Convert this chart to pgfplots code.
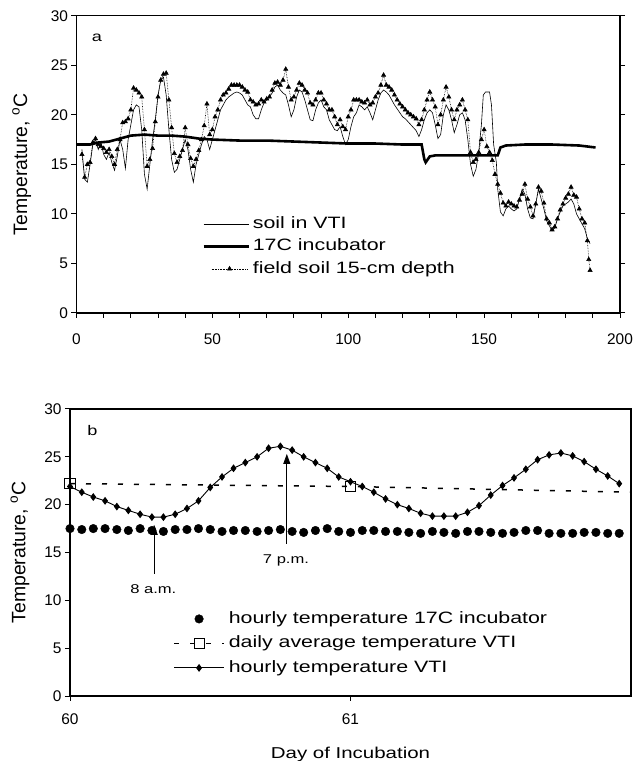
\documentclass[border=0pt]{standalone}
\usepackage{fontspec}
\setmainfont{Liberation Sans}
\newfontfamily\wide[FakeStretch=1.3]{Liberation Sans}
\usepackage{pgfplots}
\pgfplotsset{compat=1.18}
\usetikzlibrary{arrows.meta}

\pgfplotstableread{
x y
2 16.5
3 13.5
4 13.2
5 15
6 17
7 17.5
8 16.5
9 17.2
10 16
11 15.5
12 16.2
13 15.2
14 14.4
15 15.8
16 17.5
17 16.5
18 14.6
19 17.5
20 19
21 20.5
22 21
23 20.8
24 18.5
25 14
26 12.5
27 15
28 17.5
29 19.5
30 22
31 23.5
32 23.8
33 22
34 18.5
35 15.5
36 14.2
37 14.5
38 15.5
39 16.5
40 17.5
41 16.5
42 14.5
43 13.2
44 15
45 16
46 17
47 17.8
48 17.5
49 16.5
50 17.5
51 18.5
52 19.5
53 20.5
54 21
55 21.5
56 21.8
57 22
58 22.2
59 22.3
60 22.2
61 22
62 21.5
63 21
64 20.8
65 20
66 19.6
67 19.6
68 20.5
69 21.2
70 21.5
71 21.8
72 22.2
73 22.8
74 23
75 22.5
76 22.2
77 22
78 21
79 19.8
80 20.5
81 21.8
82 22.5
83 22.3
84 21.5
85 20.5
86 19.5
87 19.4
88 20.5
89 21.2
90 21.5
91 20.8
92 20.5
93 19.5
94 19
95 18.5
96 18.4
97 18.8
98 17.8
99 17
100 17.5
101 18.8
102 19.8
103 20.2
104 21
105 20.8
106 20.5
107 20.8
108 20.2
109 19.5
110 20.5
111 21.5
112 22.2
113 22.5
114 22.3
115 22
116 21.5
117 21
118 20.6
119 20.2
120 19.8
121 19.6
122 19.3
123 19
124 18.7
125 18.4
126 17.8
127 18.5
128 19.5
129 20.2
130 20.5
131 20.2
132 19
133 17.6
134 18
135 20
136 21
137 20.5
138 19.5
139 18.2
140 19
141 20
142 20.2
143 19.5
144 17.5
145 15
146 13.8
147 14.5
148 16.2
149 19
149.7 22
150.5 22.3
152 22.3
152.7 21
153.5 17
154.5 15.2
155 12.5
156 10.2
157 9.8
158 10.5
159 10.8
160 10.5
161 10.3
162 10.5
163 11.5
164 12.5
165 12
166 10.5
167 9.6
168 9.5
169 11
170 12.5
171 11.5
172 10.5
173 9.3
174 8.8
175 8.3
176 8.6
177 9.5
178 10.2
179 10.8
180 11
181 11.2
182 11.5
183 11
184 10
185 9.5
186 9
187 8.5
188 7.5
189 7
}\vti

\pgfplotstableread{
x y
2 16
3 13.7
4 15
5 15.2
6 17.2
7 17.6
8 17
9 16.8
10 16.6
11 16.2
12 16.5
13 15.8
14 15
15 16.5
16 17.5
17 19.2
18 19.3
19 19.6
20 20.5
21 22.7
22 22.5
23 22.2
24 21.8
25 18.5
26 14.8
27 15.5
28 16.6
29 19.3
30 21.8
31 23.5
32 24.1
33 24.2
34 21.5
35 18.7
36 16.1
37 15.2
38 15.8
39 16.4
40 18.7
41 17
42 15.6
43 14.8
44 15.5
45 16.4
46 17.5
47 18.9
48 21.1
49 18
50 18.5
51 19.8
52 20.5
53 21.5
54 22
55 22.2
56 22.6
57 23
58 23
59 23
60 23
61 22.8
62 22.5
63 22.3
64 21.5
65 21.3
66 21
67 21.1
68 21.5
69 21.3
70 21.6
71 21.8
72 22.5
73 23.2
74 23.3
75 23
76 23.5
77 24.6
78 22.8
79 21.5
80 21.8
81 22.5
82 23.2
83 23
84 22.5
85 22.2
86 21.2
87 21
88 21.5
89 22.2
90 22.2
91 21.5
92 21.1
93 20.5
94 20.5
95 19.8
96 19
97 19.5
98 18.8
99 18.5
100 19.8
101 20.5
102 21.5
103 21.5
104 21.5
105 21.3
106 21.2
107 21.5
108 21
109 21.2
110 21.8
111 22.2
112 23
113 24
114 23
115 22.8
116 22.5
117 22
118 21.5
119 21.1
120 20.8
121 20.5
122 20.2
123 20
124 19.8
125 19.6
126 19
127 19.5
128 20.5
129 21.5
130 22.3
131 21.5
132 20.8
133 19
134 20
135 21.5
136 22.8
137 21.8
138 20.5
139 19.5
140 20.5
141 21
142 21.5
143 20.5
144 19.5
145 16.2
146 15.2
147 15.5
148 16.2
149 17.5
150 18.5
151 16.8
152 16.2
153 15.4
154 14
155 13
156 12.1
157 11.1
158 10.8
159 11.2
160 11
161 10.8
162 10.7
163 11.4
164 12
165 13
166 11.5
167 10.7
168 9.8
169 11
170 12.7
171 12.3
172 11.1
173 9.5
174 9.1
175 8.4
176 8.7
177 9.5
178 10.4
179 11
180 11.6
181 12
182 12.7
183 11.9
184 11.7
185 10.5
186 9.5
187 9.1
188 7.3
188.5 5.4
189 4.3
}\field

\pgfplotstableread{
x y
0 17.0
5 17.0
8 17.2
12 17.3
16 17.6
20 17.9
25 18.0
30 17.9
35 17.9
40 17.8
45 17.6
50 17.5
60 17.4
70 17.4
80 17.3
90 17.2
100 17.1
110 17.1
120 17.0
127 17.0
128 15.5
128.5 15.2
130 15.8
132 15.9
140 15.9
150 15.9
155 15.9
156 16.7
158 16.9
165 17.0
175 17.0
185 16.9
191 16.7
}\incub

\pgfplotstableread{
x y
60.000 17.5
60.042 17.4
60.083 17.5
60.125 17.5
60.167 17.4
60.208 17.3
60.250 17.5
60.292 17.3
60.333 17.2
60.375 17.4
60.417 17.4
60.458 17.5
60.500 17.4
60.542 17.2
60.583 17.3
60.625 17.3
60.667 17.2
60.708 17.3
60.750 17.4
60.792 17.2
60.833 17.1
60.875 17.3
60.917 17.5
60.958 17.2
61.000 17.1
61.042 17.3
61.083 17.3
61.125 17.2
61.167 17.2
61.208 17.1
61.250 17.0
61.292 17.2
61.333 17.1
61.375 17.0
61.417 17.2
61.458 17.2
61.500 17.1
61.542 17.0
61.583 17.1
61.625 17.3
61.667 17.3
61.708 17.0
61.750 17.0
61.792 17.0
61.833 17.1
61.875 17.1
61.917 17.0
61.958 17.0
}\hourinc

\pgfplotstableread{
x y
60.000 21.9
60.042 21.3
60.083 20.8
60.125 20.4
60.167 19.8
60.208 19.4
60.250 19.0
60.292 18.7
60.333 18.7
60.375 19.0
60.417 19.6
60.458 20.4
60.500 21.8
60.542 22.9
60.583 23.8
60.625 24.4
60.667 25.0
60.708 25.9
60.750 26.1
60.792 25.7
60.833 25.0
60.875 24.4
60.917 23.8
60.958 22.9
61.000 22.4
61.042 21.9
61.083 21.3
61.125 20.6
61.167 20.0
61.208 19.6
61.250 19.1
61.292 18.8
61.333 18.8
61.375 18.8
61.417 19.2
61.458 19.9
61.500 21.0
61.542 22.0
61.583 22.8
61.625 23.7
61.667 24.7
61.708 25.2
61.750 25.4
61.792 25.1
61.833 24.5
61.875 23.7
61.917 23.0
61.958 22.2
}\hourvti

\pgfplotsset{
  myax/.style={
    scale only axis,
    axis line style={line width=1.2bp},
    tick style={line width=1bp, black},
    major tick length=5bp, minor tick length=5bp,
    tick align=outside,
    tick label style={font=\fontsize{15.5}{18}\selectfont},
    /pgf/number format/assume math mode=true,
    ymin=0, ymax=30, ytick={0,5,...,30},
    ylabel={Temperature, \textsuperscript{o}C},
    ylabel style={font=\fontsize{19.5}{22}\selectfont, anchor=center},
    legend cell align=left,
  },
  lineleg/.style={legend image code/.code={\draw[##1] (0bp,0bp) -- (45bp,0bp);}},
  markleg/.style={legend image code/.code={\draw[mark repeat=2,mark phase=2,##1] plot coordinates {(8bp,0bp) (26bp,0bp) (44bp,0bp)};}},
  bleg/.style={legend image code/.code={\draw[mark repeat=2,mark phase=2,##1] plot coordinates {(0bp,0bp) (25bp,0bp) (50bp,0bp)};}},
  dleg/.style={legend image code/.code={\draw[##1, mark indices={2}] plot coordinates {(0bp,0bp) (25bp,0bp) (50bp,0bp)};}},
}

\begin{document}
\begin{tikzpicture}
\useasboundingbox (0,0) rectangle (633bp,761bp);

\begin{axis}[myax,
  at={(76.5bp,448bp)}, anchor=south west,
  width=543.5bp, height=297.3bp,
  xmin=0, xmax=200,
  xtick={0,50,...,200}, minor xtick={10,20,...,190},
  xtick pos=bottom, ytick pos=both,
  xticklabel style={yshift=-12bp},
  ylabel style={at={(axis description cs:-0.1009,0.5)}},
  legend style={draw=none, fill=none, at={(axis cs:45.1,10.1)}, anchor=north west,
    font=\wide\fontsize{16.5}{19}\selectfont,
    nodes={inner sep=1bp, text height=12bp, text depth=3.5bp},
    row sep=5bp, column sep=2bp},
]
\addplot[black, line width=0.6bp, lineleg] table {\vti};
\addlegendentry{soil in VTI}
\addplot[black, line width=2.6bp, lineleg] table {\incub};
\addlegendentry{17C incubator}
\addplot[black, line width=0.6bp, densely dotted, mark=triangle*, mark size=2.4bp,
  mark options={solid}, markleg] table {\field};
\addlegendentry{field soil 15-cm depth}
\node[font=\wide\fontsize{14}{16}\selectfont] at (axis cs:7.5,27.8) {a};
\end{axis}

\begin{axis}[myax,
  at={(70bp,65bp)}, anchor=south west,
  width=561bp, height=287bp,
  xmin=60, xmax=62,
  xtick={60,61},
  tick pos=left,
  xticklabel style={yshift=-9bp},
  ylabel style={at={(axis description cs:-0.0891,0.5)}},
  xlabel={Day of Incubation},
  xlabel style={font=\wide\fontsize{15.8}{18}\selectfont, at={(axis description cs:0.5,-0.205)}, anchor=center},
  legend style={draw=none, fill=none, at={(axis cs:60.357,9.2)}, anchor=north west,
    font=\wide\fontsize{16.5}{19}\selectfont,
    nodes={inner sep=1bp, text height=12bp, text depth=3.5bp},
    row sep=7bp, column sep=3bp},
]
\addplot[black, only marks, mark=*, mark size=4.3bp, bleg] table {\hourinc};
\addlegendentry{hourly temperature 17C incubator}
\addplot[black, line width=1.5bp, dash pattern=on 5bp off 11bp, mark=square, mark size=5bp,
  mark options={solid, fill=white, line width=1bp}, mark indices={1,2}, dleg] coordinates {(60,22.2) (61,21.9) (62,21.3)};
\addlegendentry{daily average temperature VTI}
\addplot[black, line width=0.9bp, mark=diamond*, mark size=3.2bp, bleg] table {\hourvti};
\addlegendentry{hourly temperature VTI}
\draw[line width=0.8bp, -{Triangle[width=7bp,length=10bp]}] (axis cs:60.3,12.8) -- (axis cs:60.3,17.9);
\draw[line width=0.8bp, -{Triangle[width=7bp,length=10bp]}] (axis cs:60.773,15.9) -- (axis cs:60.773,25.3);
\node[font=\wide\fontsize{12.8}{15}\selectfont] at (axis cs:60.297,11.2) {8 a.m.};
\node[font=\wide\fontsize{12.8}{15}\selectfont] at (axis cs:60.77,14.2) {7 p.m.};
\node[font=\wide\fontsize{14}{16}\selectfont] at (axis cs:60.08,27.7) {b};
\end{axis}
\end{tikzpicture}
\end{document}
